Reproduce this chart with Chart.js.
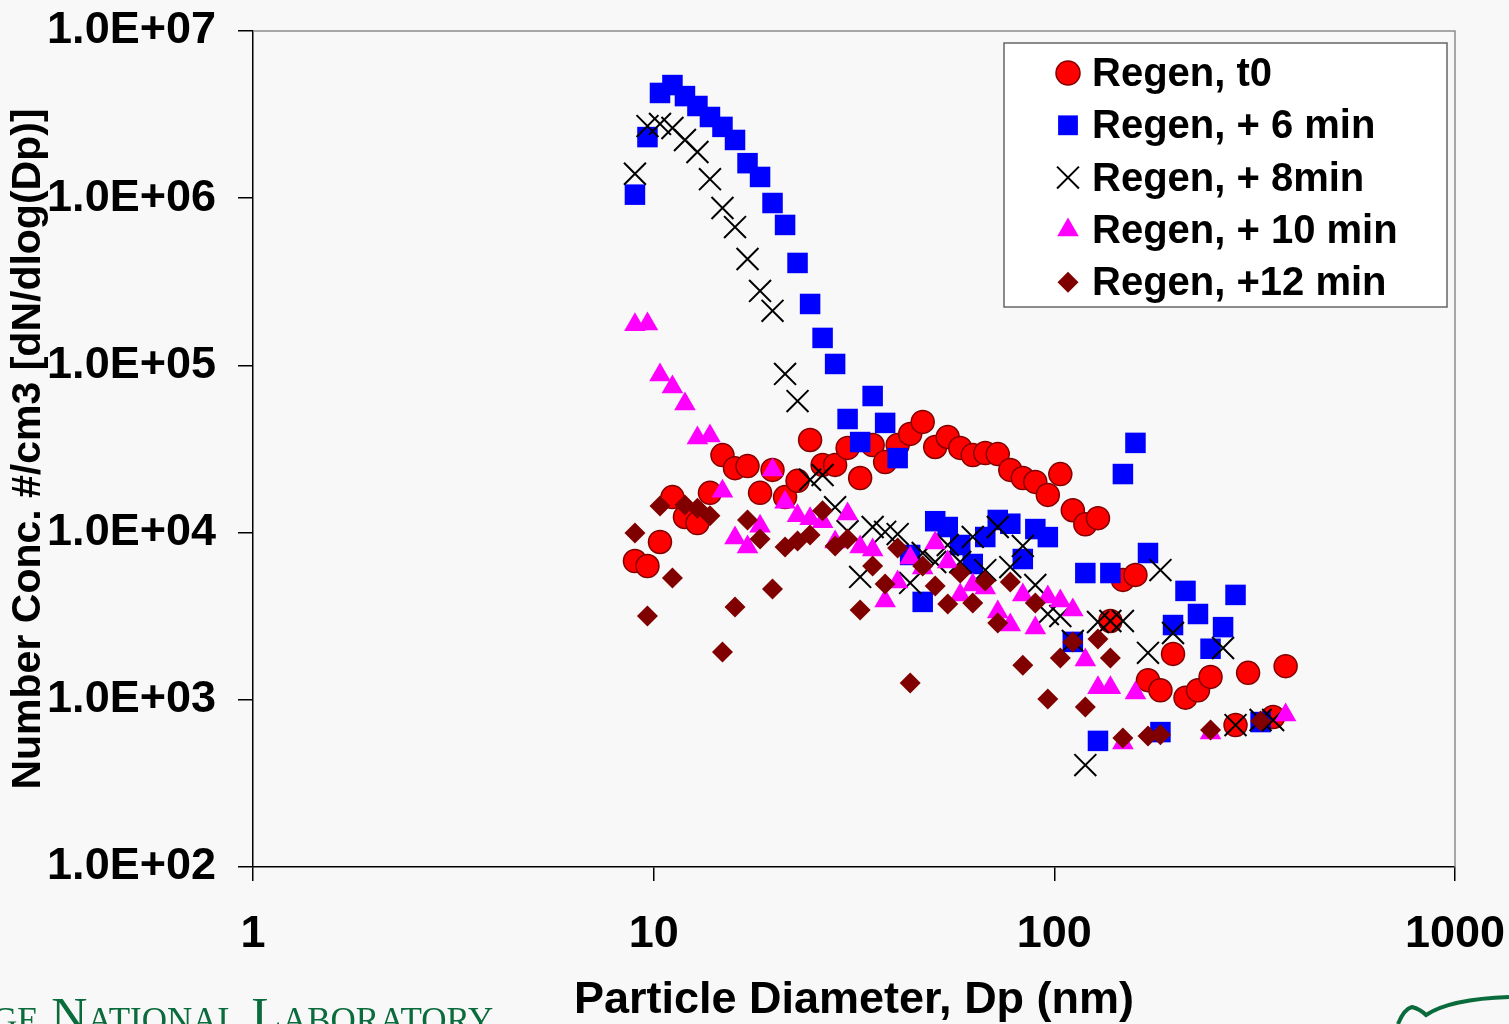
<!DOCTYPE html>
<html>
<head>
<meta charset="utf-8">
<script src="https://cdn.jsdelivr.net/npm/chart.js@4.4.1/dist/chart.umd.min.js"></script>
<style>
  html, body { margin: 0; padding: 0; background: #f8f8f8; overflow: hidden; }
  #wrap { position: relative; width: 1509px; height: 1024px; }
  #lab { position: absolute; left: -8px; top: 986px; font-family: "Liberation Serif", serif; font-size: 50px;
         font-variant: small-caps; color: #0a6b3c; white-space: nowrap; }
  #logo { position: absolute; left: 1390px; top: 995px; }
</style>
</head>
<body>
<div id="wrap">
  <canvas id="chart"></canvas>
  <div id="lab">ge National Laboratory</div>
  <svg id="logo" width="119" height="29" viewBox="0 0 119 29">
    <path d="M8 29 Q14 14 22 12 Q30 14 36 20 Q60 4 119 2" fill="none" stroke="#0a6b3c" stroke-width="4"/>
  </svg>
</div>
<script>
// particle diameter bins (nm)
const diameters = [8.98, 9.65, 10.37, 11.14, 11.97, 12.86, 13.82, 14.85, 15.96, 17.15,
  18.43, 19.80, 21.28, 22.86, 24.57, 26.40, 28.37, 30.48, 32.76, 35.20,
  37.82, 40.64, 43.67, 46.93, 50.43, 54.19, 58.23, 62.57, 67.24, 72.25,
  77.64, 83.43, 89.65, 96.33, 103.5, 111.2, 119.5, 128.5, 138.0, 148.3,
  159.4, 171.3, 184.0, 197.8, 212.5, 228.3, 245.4, 263.7, 283.3, 304.5,
  327.2, 351.6, 377.8];

// number conc. #/cm3 [dN/dlog(Dp)] for each bin, null = no point
const regenT0 = [6760, 6310, 8790, 16300, 12400, 11400, 17300, 29100, 24300, 25000,
  17300, 23700, 16300, 20400, 35800, 25400, 25400, 32100, 21200, 33400,
  26400, 33400, 38900, 45900, 32500, 37300, 32100, 29100, 29900, 29500,
  23700, 21200, 20100, 16800, 22400, 13600, 11200, 12200, 2960, 5210,
  5580, 1310, 1140, 1880, 1030, 1140, 1370, null, 706, 1450,
  null, 789, 1590];

const regen6 = [1050000, 2320000, 4260000, 4750000, 4080000, 3560000, 3060000, 2670000, 2230000, 1620000,
  1340000, 936000, 692000, 410000, 233000, 146000, 102000, 47800, 34800, 65600,
  45300, 27900, 7350, 3850, 11700, 10800, 8430, 6490, 9410, 11900,
  11300, 6950, 10500, 9400, null, 2220, 5730, 568, 5730, 22400,
  34400, 7550, 641, 2800, 4480, 3260, 2020, 2720, 4240, null,
  736, null, null];

const regen8 = [1400000, 2700000, 2780000, 2630000, 2230000, 1890000, 1300000, 874000, 672000, 433000,
  279000, 212000, 88900, 61200, 20700, 22100, 14200, 10200, 5430, 10800,
  10100, 9800, 5000, 7550, 6670, 8430, 6670, 9420, 5970, 10800,
  6220, 8320, 4860, 3260, 3170, 2250, 407, 2920, 2960, 2960,
  null, 1910, 5970, 2510, null, null, null, 2040, 706, null,
  757, 757, null];

const regen10 = [175000, 177000, 87700, 74300, 58800, 36800, 37800, 17700, 9290, 8200,
  10900, 23700, 15200, 12600, 12100, 11600, 8790, 12900, 8200, 7870,
  3900, 5070, 7050, 6140, 8670, 6670, 4240, 4860, 4670, 3350,
  2800, 4240, 2690, 4120, 3900, 3440, 1730, 1180, 1180, 552,
  1100, null, null, null, null, null, 633, null, null, null,
  null, null, 811];

const regen12 = [9950, 3170, 14400, 5360, 14600, 14000, 12600, 1930, 3590, 11900,
  9160, 4600, 8200, 8910, 9680, 13500, 8320, 9160, 3440, 6310,
  4930, 8090, 1260, 6310, 4800, 3740, 5730, 3790, 5140, 2880,
  5070, 1610, 3790, 1010, 1780, 2220, 906, 2310, 1780, 590,
  null, 608, 617, null, null, null, 659, null, null, null,
  746, null, null];

const seriesNames = ['Regen, t0', 'Regen, + 6 min', 'Regen, + 8min', 'Regen, + 10 min', 'Regen, +12 min'];

const xTicks = [1, 10, 100, 1000];
const xTickLabels = ['1', '10', '100', '1000'];
const yTicks = [1e2, 1e3, 1e4, 1e5, 1e6, 1e7];
const yTickLabels = ['1.0E+02', '1.0E+03', '1.0E+04', '1.0E+05', '1.0E+06', '1.0E+07'];

const FONT = '"Liberation Sans", Arial, sans-serif';

function points(vals) {
  const out = [];
  for (let i = 0; i < diameters.length; i++) {
    if (vals[i] !== null) out.push({ x: diameters[i], y: vals[i] });
  }
  return out;
}

const datasets = [
  { label: seriesNames[0], data: points(regenT0), pointStyle: 'circle', pointRadius: 11.5,
    backgroundColor: '#ff0000', borderColor: '#800000', borderWidth: 1.5, order: 5 },
  { label: seriesNames[1], data: points(regen6), pointStyle: 'rect', pointRadius: 14.5,
    backgroundColor: '#0000ff', borderColor: '#0000ff', borderWidth: 0, order: 4 },
  { label: seriesNames[2], data: points(regen8), pointStyle: 'crossRot', pointRadius: 15.5,
    backgroundColor: '#000000', borderColor: '#000000', borderWidth: 2, order: 3 },
  { label: seriesNames[3], data: points(regen10), pointStyle: 'triangle', pointRadius: 12.5,
    backgroundColor: '#ff00ff', borderColor: '#ff00ff', borderWidth: 0, order: 2 },
  { label: seriesNames[4], data: points(regen12), pointStyle: 'rectRot', pointRadius: 10.5,
    backgroundColor: '#800000', borderColor: '#800000', borderWidth: 0, order: 1 }
];
datasets.forEach(d => { d.showLine = false; d.pointHoverRadius = d.pointRadius; });

// grey top/right frame + boxed legend in the upper right
const framePlugin = {
  id: 'frame',
  beforeDatasetsDraw(chart) {
    const { ctx, chartArea: a } = chart;
    ctx.save();
    ctx.strokeStyle = '#8c8c8c';
    ctx.lineWidth = 1.5;
    ctx.beginPath();
    ctx.moveTo(a.left, a.top);
    ctx.lineTo(a.right, a.top);
    ctx.lineTo(a.right, a.bottom);
    ctx.stroke();
    ctx.restore();
  },
  afterDraw(chart) {
    const { ctx, chartArea: a } = chart;
    const bx = a.right - 451, by = a.top + 12, bw = 443, bh = 264;
    ctx.save();
    ctx.fillStyle = '#ffffff';
    ctx.fillRect(bx, by, bw, bh);
    ctx.strokeStyle = '#666666';
    ctx.lineWidth = 1.5;
    ctx.strokeRect(bx, by, bw, bh);
    ctx.font = 'bold 40px ' + FONT;
    ctx.textBaseline = 'middle';
    ctx.textAlign = 'left';
    chart.data.datasets.forEach((d, i) => {
      const cy = by + 30 + i * 52.3;
      const cx = bx + 64;
      ctx.fillStyle = d.backgroundColor;
      ctx.strokeStyle = d.borderColor;
      ctx.lineWidth = d.borderWidth || 0;
      const r = d.pointStyle === 'circle' ? 12 : d.pointStyle === 'crossRot' ? 15.5 : d.pointStyle === 'rect' ? 14 : d.pointRadius;
      Chart.helpers.drawPoint(ctx, { pointStyle: d.pointStyle, radius: r, rotation: 0, borderWidth: d.borderWidth || 0 }, cx, cy);
      ctx.fillStyle = '#000000';
      ctx.fillText(d.label, bx + 88, cy + 2);
    });
    ctx.restore();
  }
};

new Chart(document.getElementById('chart'), {
  type: 'scatter',
  data: { datasets: datasets },
  options: {
    responsive: true,
    maintainAspectRatio: false,
    animation: false,
    layout: { padding: { left: 0, right: 54, top: 31, bottom: 0 } },
    plugins: { legend: { display: false }, tooltip: { enabled: false } },
    scales: {
      x: {
        type: 'logarithmic',
        position: 'bottom',
        min: 1,
        max: 1000,
        afterBuildTicks: (s) => { s.ticks = xTicks.map(v => ({ value: v })); },
        afterFit: (s) => { s.height = 157; s.paddingLeft = 0; s.paddingRight = 0; },
        ticks: {
          autoSkip: false, maxRotation: 0, padding: 27, color: '#000',
          font: { family: FONT, size: 45, weight: 'bold' },
          callback: (v, i) => xTickLabels[i]
        },
        grid: { drawOnChartArea: false, color: '#000', lineWidth: 1.5, tickLength: 14 },
        border: { color: '#000', width: 1.5 },
        title: {
          display: true, text: 'Particle Diameter, Dp (nm)', color: '#000',
          font: { family: FONT, size: 45, weight: 'bold' }, padding: { top: 0, bottom: -4 }
        }
      },
      y: {
        type: 'logarithmic',
        min: 100,
        max: 1e7,
        afterBuildTicks: (s) => { s.ticks = yTicks.map(v => ({ value: v })); },
        afterFit: (s) => { s.width = 253; s.paddingTop = 0; s.paddingBottom = 0; },
        ticks: {
          autoSkip: false, padding: 22, color: '#000',
          font: { family: FONT, size: 45, weight: 'bold' },
          callback: (v, i) => yTickLabels[i]
        },
        grid: { drawOnChartArea: false, color: '#000', lineWidth: 1.5, tickLength: 15 },
        border: { color: '#000', width: 1.5 },
        title: {
          display: true, text: 'Number Conc. #/cm3 [dN/dlog(Dp)]', color: '#000',
          font: { family: FONT, size: 41, weight: 'bold' }, padding: { top: 4, bottom: 0 }
        }
      }
    }
  },
  plugins: [framePlugin]
});
</script>
</body>
</html>
